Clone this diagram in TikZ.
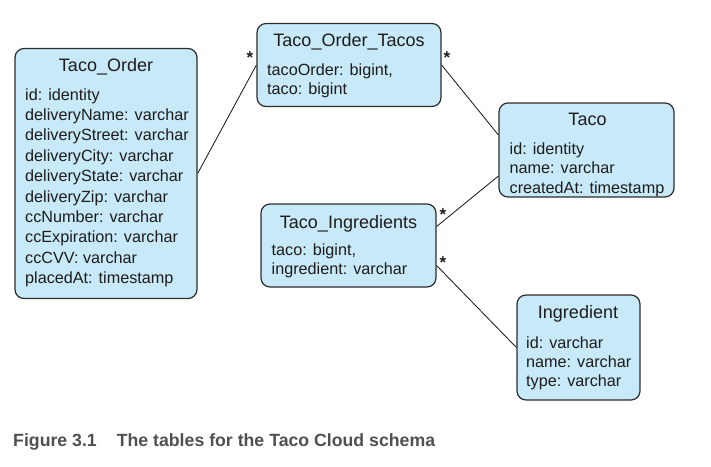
\documentclass[tikz,border=0pt]{standalone}
\usepackage{fontspec}
\setmainfont{Liberation Sans}
\definecolor{boxfill}{RGB}{199,233,248}
\definecolor{boxline}{RGB}{45,45,45}
\definecolor{ink}{RGB}{30,28,28}
\definecolor{capgray}{RGB}{80,80,84}
\begin{document}
\begin{tikzpicture}[x=1pt,y=-1pt,
  tbl/.style={draw=boxline, fill=boxfill, line width=1.2pt, rounded corners=9pt, inner sep=0pt},
  title/.style={anchor=base, inner sep=0pt, text=ink, font=\fontsize{18}{20}\selectfont},
  field/.style={anchor=base west, inner sep=0pt, text=ink, font=\fontsize{16.2}{19}\selectfont},
  mult/.style={anchor=base, inner sep=0pt, text=ink, font=\fontsize{17}{18}\selectfont\bfseries},
  link/.style={draw=ink, line width=0.85pt}]
\useasboundingbox (0,0) rectangle (711,466);

% tables
\node[tbl, minimum width=182pt, minimum height=250pt] (order) at (106,173.5) {};
\node[title] (order-t) at (106,71.7) {Taco\_Order};
\foreach \t [count=\i] in {id: identity, deliveryName: varchar, deliveryStreet: varchar,
    deliveryCity: varchar, deliveryState: varchar, deliveryZip: varchar,
    ccNumber: varchar, ccExpiration: varchar, ccCVV: varchar, placedAt: timestamp}
  \node[field] (order-f\i) at (25,100+20.4*\i-20.4) {\t};

\node[tbl, minimum width=184pt, minimum height=83pt] (tacos) at (349,65) {};
\node[title] (tacos-t) at (349,46) {Taco\_Order\_Tacos};
\foreach \t [count=\i] in {{tacoOrder: bigint,}, taco: bigint}
  \node[field] (tacos-f\i) at (267,75+19*\i-19) {\t};

\node[tbl, minimum width=175pt, minimum height=94pt] (taco) at (586.5,150) {};
\node[title] (taco-t) at (587.5,125) {Taco};
\foreach \t [count=\i] in {id: identity, name: varchar, createdAt: timestamp}
  \node[field] (taco-f\i) at (509.5,154+19.6*\i-19.6) {\t};

\node[tbl, minimum width=175pt, minimum height=83pt] (tacoing) at (348.5,245.5) {};
\node[title] (tacoing-t) at (348.5,228.3) {Taco\_Ingredients};
\foreach \t [count=\i] in {{taco: bigint,}, ingredient: varchar}
  \node[field] (tacoing-f\i) at (271.5,255+19*\i-19) {\t};

\node[tbl, minimum width=123pt, minimum height=105pt] (ingredient) at (578.5,347.5) {};
\node[title] (ingredient-t) at (578,318) {Ingredient};
\foreach \t [count=\i] in {id: varchar, name: varchar, type: varchar}
  \node[field] (ingredient-f\i) at (526,348+19*\i-19) {\t};

% relationships
\draw[link] (order.east) -- (tacos.west);
\draw[link] (tacos.east) -- ([yshift=15pt]taco.west);
\draw[link] ([yshift=19pt]tacoing.east) -- ([yshift=-26pt]taco.west);
\draw[link] ([yshift=-20pt]tacoing.east) -- (ingredient.west);

% multiplicities
\node[mult] (m1) at (250,63) {*};
\node[mult] (m2) at (447,63) {*};
\node[mult] (m3) at (443,220) {*};
\node[mult] (m4) at (443,268) {*};

% caption
\node[anchor=base west, inner sep=0pt, text=capgray,
  font=\fontsize{17.7}{20}\selectfont\bfseries] (caption) at (13,446)
  {Figure 3.1\hspace{20pt}The tables for the Taco Cloud schema};
\end{tikzpicture}
\end{document}
